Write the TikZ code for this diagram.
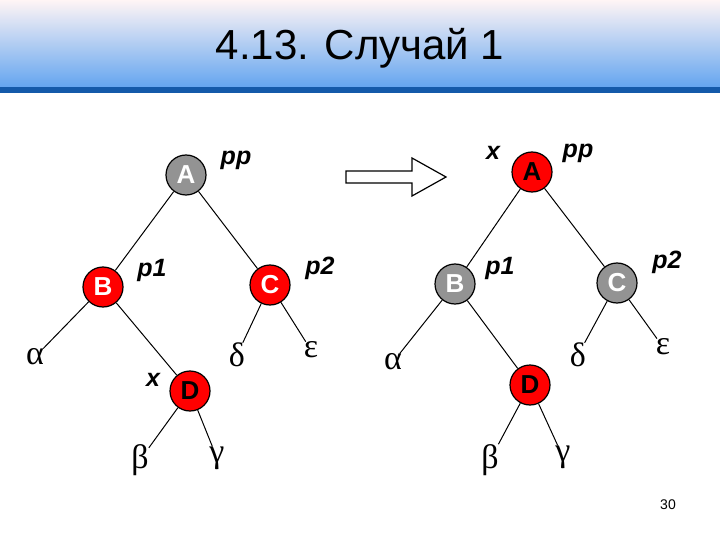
\documentclass[tikz,border=0pt]{standalone}
\usepackage{fontspec}
\setmainfont{Liberation Sans}
\newfontfamily\grk{Liberation Serif}
\definecolor{hdblue}{RGB}{100,165,240}
\definecolor{hdbar}{RGB}{20,90,170}
\begin{document}
\begin{tikzpicture}[x=1pt,y=-1pt,
  nd/.style={circle,draw=black,line width=1.2pt,minimum size=40pt,inner sep=0pt,font=\fontsize{26}{26}\selectfont\bfseries},
  rd/.style={nd,fill=red,text=black},
  gd/.style={nd,fill=gray!85,text=white},
  lf/.style={inner sep=0pt,font=\grk\fontsize{34}{34}\selectfont},
  lb/.style={inner sep=0pt,font=\fontsize{25}{25}\selectfont\bfseries\itshape},
  ed/.style={line width=1pt}]
\useasboundingbox (0,0) rectangle (720,540);
\fill[white] (0,0) rectangle (720,540);
\shade[top color=red!4!white,bottom color=hdblue] (0,0) rectangle (720,87);
\fill[hdbar] (0,87) rectangle (720,93);
\node[font=\fontsize{42}{42}\selectfont] (t) at (360,48) {4.13. Случай 1};
% left tree
\node[gd] (A1) at (186,175) {A};
\node[rd,text=white] (B1) at (103,287) {B};
\node[rd,text=white] (C1) at (270,285) {C};
\node[rd] (D1) at (190,391) {D};
\node[lf] (a1) at (35,357) {α};
\node[lf] (b1) at (140,460) {β};
\node[lf] (g1) at (217,458) {γ};
\node[lf] (d1) at (237,355) {δ};
\node[lf] (e1) at (311,350) {ε};
\node[lb] (l1) at (236,160) {pp};
\node[lb] (l2) at (152,270) {p1};
\node[lb] (l3) at (320,268) {p2};
\node[lb] (l4) at (153,380) {x};
\draw[ed] (A1) -- (B1); \draw[ed] (A1) -- (C1);
\draw[ed] (B1) -- (a1); \draw[ed] (B1) -- (D1);
\draw[ed] (D1) -- (b1); \draw[ed] (D1) -- (g1);
\draw[ed] (C1) -- (d1); \draw[ed] (C1) -- (e1);
% arrow
\draw[line width=1.2pt,fill=white] (346,171) -- (412,171) -- (412,158) -- (446,177) -- (412,196) -- (412,183) -- (346,183) -- cycle;
% right tree
\node[rd] (A2) at (532,172) {A};
\node[gd] (B2) at (455,284) {B};
\node[gd] (C2) at (617,283) {C};
\node[rd] (D2) at (530,385) {D};
\node[lf] (a2) at (393,362) {α};
\node[lf] (b2) at (490,460) {β};
\node[lf] (g2) at (563,457) {γ};
\node[lf] (d2) at (578,355) {δ};
\node[lf] (e2) at (663,347) {ε};
\node[lb] (m1) at (493,153) {x};
\node[lb] (m2) at (578,153) {pp};
\node[lb] (m3) at (500,268) {p1};
\node[lb] (m4) at (667,262) {p2};
\draw[ed] (A2) -- (B2); \draw[ed] (A2) -- (C2);
\draw[ed] (B2) -- (a2); \draw[ed] (B2) -- (D2);
\draw[ed] (D2) -- (b2); \draw[ed] (D2) -- (g2);
\draw[ed] (C2) -- (d2); \draw[ed] (C2) -- (e2);
\node[font=\fontsize{14}{14}\selectfont] (pg) at (668,505) {30};
\end{tikzpicture}
\end{document}
